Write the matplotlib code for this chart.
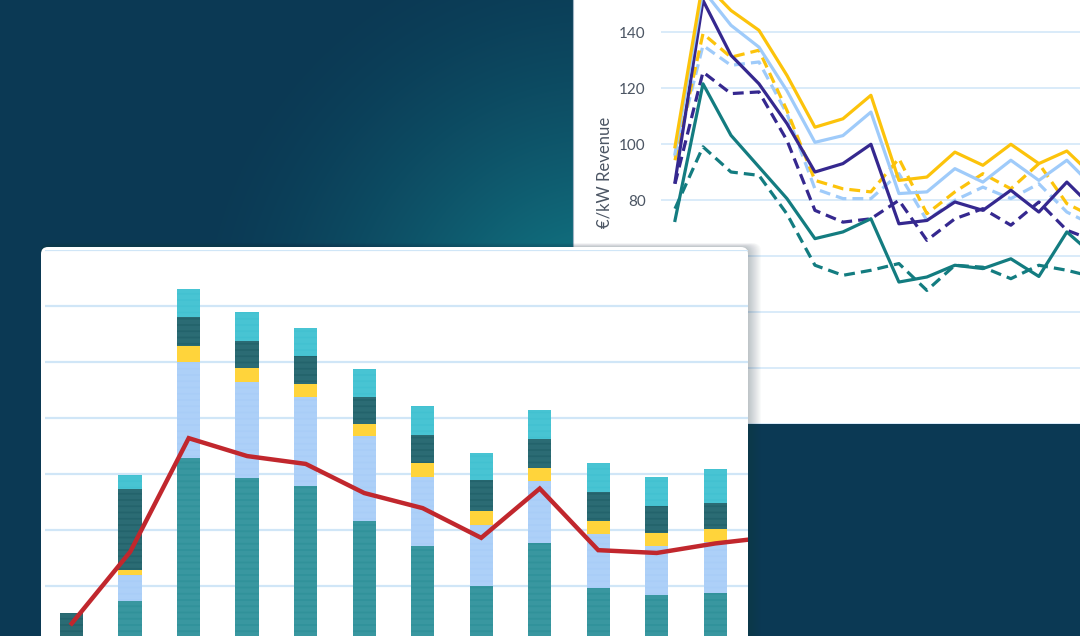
import numpy as np
import matplotlib.pyplot as plt
from matplotlib.patches import FancyBboxPatch, Rectangle
from matplotlib.colors import to_rgb

W, H = 1080, 636

# right chart: €/kW revenue per period, eight scenarios
periods = list(range(16))
yellow_solid = [99, 158, 147.7, 140.6, 124.5, 106, 109, 117.4, 87, 88.2, 97.1, 92.4, 99.9, 93, 97.5, 88]
blue_solid = [96.5, 155, 142.4, 134.6, 119, 100.6, 103, 111.4, 82.3, 82.9, 91.2, 86.4, 94.2, 87, 94.2, 84.1]
indigo_solid = [86.4, 151.3, 131.7, 121.5, 107.3, 90, 93, 99.9, 71.5, 72.7, 79.3, 76.3, 83.5, 75.7, 86.4, 76.5]
teal_solid = [72.7, 121.5, 103.1, 91.8, 80.5, 66.2, 68.6, 73.3, 50.7, 52.5, 56.7, 55.5, 59, 52.7, 68.6, 59.8]
yellow_dash = [94.2, 139.4, 131, 133.5, 112, 87, 84, 82.9, 94.8, 75.1, 82.9, 89.4, 84, 93, 78.7, 73.7]
blue_dash = [95.4, 135.2, 128.1, 129.3, 110.8, 84, 80.5, 80.5, 89.4, 72.7, 79.9, 84.6, 80.5, 85.8, 75.7, 70.7]
indigo_dash = [85.8, 125.7, 118, 118.6, 101.3, 76.3, 72.1, 73.3, 79.9, 65.6, 73.3, 76.9, 71, 79.3, 69.2, 65.4]
teal_dash = [76.9, 99, 90, 88.8, 75, 56.7, 53.1, 54.9, 57.3, 47.7, 56.7, 56, 51.9, 56.7, 54.9, 52.4]
rev_ticks = [0, 20, 40, 60, 80, 100, 120, 140]

# left chart: stacked revenue streams + red line
bar_idx = list(range(12))
seg_teal = [0, 7.4, 32.9, 29.3, 27.9, 21.6, 17.2, 10.0, 17.7, 9.7, 8.4, 8.8]
seg_lightblue = [0, 4.6, 17.1, 17.1, 15.8, 15.1, 12.2, 10.9, 11.0, 9.6, 8.8, 9.1]
seg_yellow = [0, 0.9, 2.8, 2.5, 2.4, 2.3, 2.5, 2.5, 2.4, 2.3, 2.2, 2.2]
seg_darkteal = [5.1, 14.4, 5.2, 4.9, 4.9, 4.7, 5.1, 5.5, 5.2, 5.2, 4.9, 4.8]
seg_cyan = [0, 2.6, 5.1, 5.1, 5.1, 5.1, 5.1, 4.9, 5.1, 5.1, 5.1, 6.0]
line_idx = list(range(13))
red_line = [3.3, 16.1, 36.4, 33.2, 31.8, 26.6, 23.9, 18.6, 27.4, 16.4, 15.9, 17.6, 18.8]

plt.rcParams['font.family'] = ['Lato', 'DejaVu Sans']
plt.rcParams['hatch.linewidth'] = 0.6

fig = plt.figure(figsize=(W / 100, H / 100), dpi=100)


def px_axes(x0, y0, x1, y1, **kw):
    return fig.add_axes([x0 / W, 1 - y1 / H, (x1 - x0) / W, (y1 - y0) / H], **kw)


# background with teal glow
bg = fig.add_axes([0, 0, 1, 1], zorder=0)
yy, xx = np.mgrid[0:H, 0:W]
d = np.hypot(xx - 600, yy - 340)
t = np.clip(1 - d / 420, 0, 1) ** 1.5
navy = np.array(to_rgb('#0b3954'))
glow = np.array(to_rgb('#138690'))
img = navy[None, None, :] * (1 - t[..., None]) + glow[None, None, :] * t[..., None]
bg.imshow(img, extent=(0, W, H, 0), aspect='auto')
bg.set_xlim(0, W)
bg.set_ylim(H, 0)
bg.axis('off')
# right white panel
bg.add_patch(Rectangle((573, -5), 520, 429, fc='white', ec='none'))
bg.plot([573, 573], [0, 424], color='#9fb4c4', lw=0.8)
bg.add_patch(Rectangle((748, 424), 340, 220, fc='#0b3954', ec='none'))

# right chart
ax2 = px_axes(661, 0, 1080, 424, zorder=1)
ax2.set_facecolor('none')
ax2.set_xlim(-0.5, 14.47)
ax2.set_ylim(0, 151.43)
ax2.set_yticks(rev_ticks)
ax2.set_yticklabels([str(v) for v in rev_ticks])
ax2.tick_params(axis='y', length=0, pad=11, labelsize=11, labelcolor='#4b5563')
ax2.set_xticks([])
ax2.grid(axis='y', color='#d3e7f8', lw=1.2)
ax2.set_axisbelow(True)
for s in ax2.spines.values():
    s.set_visible(False)

yellow_c = '#fcc30b'
blue_c = '#9fcbfa'
indigo_c = '#35288f'
teal_c = '#137c80'
dash = (0, (3.4, 1.9))
lw = 2.3
ax2.plot(periods, teal_dash, color=teal_c, lw=lw, ls=dash)
ax2.plot(periods, indigo_dash, color=indigo_c, lw=lw, ls=dash)
ax2.plot(periods, blue_dash, color=blue_c, lw=lw, ls=dash)
ax2.plot(periods, yellow_dash, color=yellow_c, lw=lw, ls=dash)
ax2.plot(periods, teal_solid, color=teal_c, lw=lw)
ax2.plot(periods, indigo_solid, color=indigo_c, lw=lw)
ax2.plot(periods, blue_solid, color=blue_c, lw=lw)
ax2.plot(periods, yellow_solid, color=yellow_c, lw=lw)

fig.text(604 / W, 1 - 172 / H, '€/kW Revenue', rotation=90, ha='center', va='center',
         fontsize=12, color='#4b5563')

# overlay with the left card and its shadow
ov = fig.add_axes([0, 0, 1, 1], zorder=2)
ov.set_facecolor('none')
ov.set_xlim(0, W)
ov.set_ylim(H, 0)
ov.axis('off')
for k in range(1, 14):
    ov.add_patch(FancyBboxPatch((41, 247 - k * 0.3), 707 + k, 460,
                                boxstyle='round,pad=0,rounding_size=8',
                                fc='#24384a', ec='none', alpha=0.022))
ov.add_patch(FancyBboxPatch((41, 247), 707, 460, boxstyle='round,pad=0,rounding_size=7',
                            fc='white', ec='none'))

# left chart
ax1 = px_axes(45, 250, 748, 642, zorder=3)
ax1.set_facecolor('none')
ax1.set_xlim(-0.456, 11.56)
ax1.set_ylim(0, 70)
ax1.set_yticks(range(0, 71, 10))
ax1.set_xticks([])
ax1.tick_params(axis='y', length=0, labelleft=False)
ax1.grid(axis='y', color='#d0e6f7', lw=1.6)
ax1.set_axisbelow(True)
for s in ax1.spines.values():
    s.set_visible(False)

segments = [
    (seg_teal, '#55abb3', '#2a8d96', '-' * 14),
    (seg_lightblue, '#bcdafd', '#a6cbf6', '-' * 14),
    (seg_yellow, '#ffd43b', '#ffd43b', None),
    (seg_darkteal, '#468991', '#1d5c65', '-' * 14),
    (seg_cyan, '#5ccfdc', '#3ebfcf', '-' * 14),
]
bottom = np.zeros(len(bar_idx))
for vals, fc, hc, hatch in segments:
    ax1.bar(bar_idx, vals, bottom=bottom, width=0.4, color=fc, edgecolor=hc,
            linewidth=0, hatch=hatch, zorder=2)
    bottom += np.array(vals)

ax1.plot(line_idx, red_line, color='#c1272d', lw=3.2, zorder=3, solid_joinstyle='miter')

fig.savefig('out.png', dpi=100)
